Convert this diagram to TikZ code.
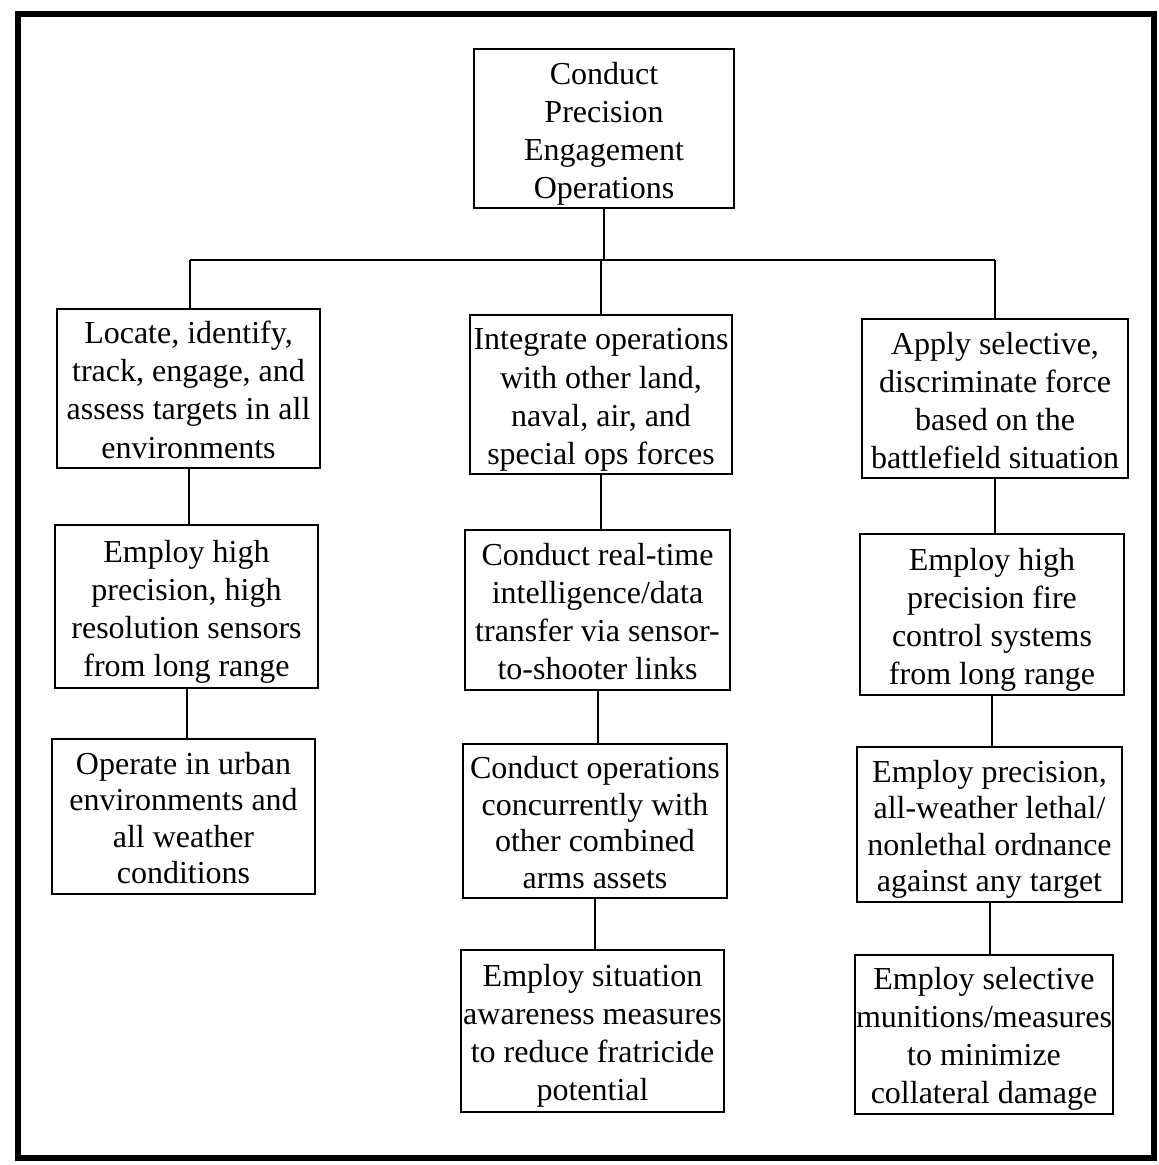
\documentclass[tikz,border=0pt]{standalone}
\usepackage{fontspec}
\setmainfont{Liberation Serif}
\newcommand\topstrut{\rule{0pt}{17.5pt}}
\newcommand\botstrut{\rule[-5pt]{0pt}{5pt}}
\begin{document}
\begin{tikzpicture}[x=0.5pt,y=-0.5pt,
  box/.style={draw,line width=1pt,align=center,inner sep=0pt,
    font=\fontsize{16pt}{19pt}\selectfont},
  tight/.style={font=\fontsize{16pt}{18.2pt}\selectfont},
  link/.style={line width=1pt}]
\useasboundingbox (0,0) rectangle (1159,1165);
\draw[line width=2.6pt] (18,14) rectangle (1154,1158);
% nodes
\node[box,minimum width=130pt,minimum height=79pt] (top) at (604,129) {\topstrut Conduct\\Precision\\Engagement\\Operations\botstrut};
\node[box,minimum width=131.5pt,minimum height=79.5pt] (L1) at (188.5,388.5) {\topstrut Locate, identify,\\track, engage, and\\assess targets in all\\environments\botstrut};
\node[box,minimum width=131.5pt,minimum height=81.5pt] (L2) at (186.5,606.5) {\topstrut Employ high\\precision, high\\resolution sensors\\from long range\botstrut};
\node[box,tight,minimum width=131.5pt,minimum height=76.5pt] (L3) at (183.5,816.5) {\topstrut Operate in urban\\environments and\\all weather\\conditions\botstrut};
\node[box,minimum width=131pt,minimum height=79.5pt] (M1) at (601,394.5) {\topstrut Integrate operations\\with other land,\\naval, air, and\\special ops forces\botstrut};
\node[box,minimum width=132.5pt,minimum height=80pt] (M2) at (597.5,610) {\topstrut Conduct real-time\\intelligence/data\\transfer via sensor-\\to-shooter links\botstrut};
\node[box,tight,minimum width=132pt,minimum height=76pt] (M3) at (595,821) {\topstrut Conduct operations\\concurrently with\\other combined\\arms assets\botstrut};
\node[box,minimum width=131.5pt,minimum height=81pt] (M4) at (592.5,1031) {\topstrut Employ situation\\awareness measures\\to reduce fratricide\\potential\botstrut};
\node[box,minimum width=133pt,minimum height=79.5pt] (R1) at (995,398.5) {\topstrut Apply selective,\\discriminate force\\based on the\\battlefield situation\botstrut};
\node[box,minimum width=132pt,minimum height=80.5pt] (R2) at (992,614.5) {\topstrut Employ high\\precision fire\\control systems\\from long range\botstrut};
\node[box,tight,minimum width=132.5pt,minimum height=76.5pt] (R3) at (989.5,824.5) {\topstrut Employ precision,\\all-weather lethal/\\nonlethal ordnance\\against any target\botstrut};
\node[box,minimum width=129pt,minimum height=79pt] (R4) at (984,1034) {\topstrut Employ selective\\munitions/measures\\to minimize\\collateral damage\botstrut};
% bus
\coordinate (bl) at (190,260);
\coordinate (br) at (995,260);
\draw[link] (bl) -- (br);
\draw[link] (top.south) -- (top.south |- bl);
\draw[link] (bl) -- (bl |- L1.north);
\draw[link] (M1.north) -- (M1.north |- bl);
\draw[link] (br) -- (br |- R1.north);
% columns
\draw[link] (L1.south) -- (L1.south |- L2.north);
\draw[link] (L2.south) -- (L2.south |- L3.north);
\draw[link] (M1.south) -- (M1.south |- M2.north);
\draw[link] (M2.south) -- (M2.south |- M3.north);
\draw[link] (M3.south) -- (M3.south |- M4.north);
\draw[link] (R1.south) -- (R1.south |- R2.north);
\draw[link] (R2.south) -- (R2.south |- R3.north);
\draw[link] (R3.south) -- (R3.south |- R4.north);
\end{tikzpicture}
\end{document}
